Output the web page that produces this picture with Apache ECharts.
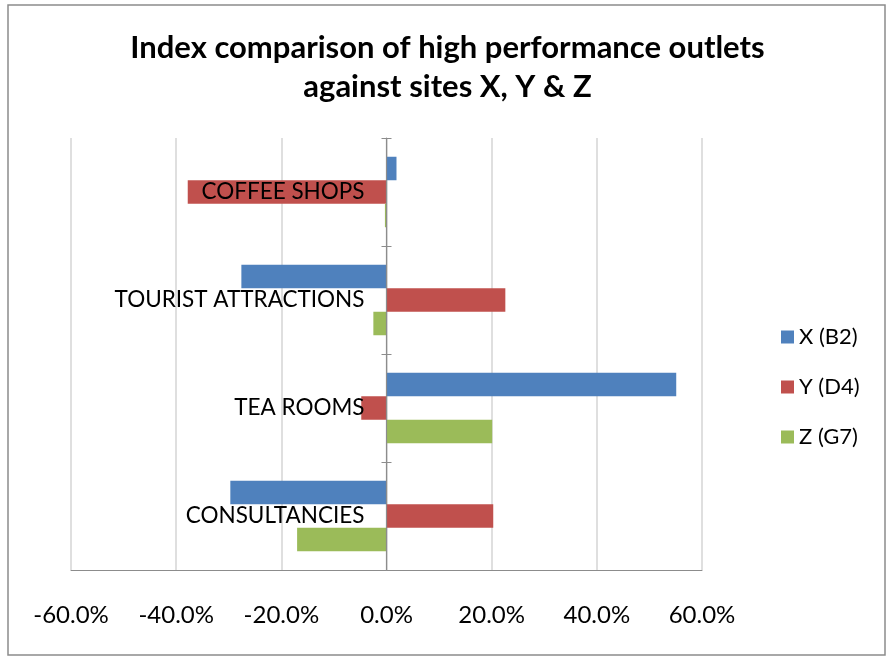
<!DOCTYPE html>
<html>
<head>
<meta charset="utf-8">
<script src="https://cdn.jsdelivr.net/npm/echarts@6/dist/echarts.min.js"></script>
<style>
html,body{margin:0;padding:0;background:#fff;}
#c{width:895px;height:663px;}
</style>
</head>
<body>
<div id="c"></div>
<script>
// Categories listed top to bottom
const categories = ['COFFEE SHOPS', 'TOURIST ATTRACTIONS', 'TEA ROOMS', 'CONSULTANCIES'];
const seriesNames = ['X (B2)', 'Y (D4)', 'Z (G7)'];
const xB2 = [1.9, -27.6, 55.1, -29.7];
const yD4 = [-37.8, 22.6, -4.8, 20.3];
const zG7 = [-0.3, -2.5, 20.1, -17.0];
const xTicks = [-60, -40, -20, 0, 20, 40, 60];
const colors = ['#4F81BD', '#C0504D', '#9BBB59'];

const chart = echarts.init(document.getElementById('c'));
const font = 'Lato, "Open Sans", sans-serif';
const values = [xB2, yD4, zG7];
const GL = 71, GR = 702;
const zeroOffset = -((GR - GL) / 2);

chart.setOption({
  animation: false,
  textStyle: { fontFamily: font },
  title: {
    text: 'Index comparison of high performance outlets\nagainst sites X, Y & Z',
    left: 'center',
    top: 23,
    textStyle: { fontFamily: font, fontSize: 31, fontWeight: 'bold', color: '#000', lineHeight: 39 }
  },
  graphic: [{
    type: 'rect', shape: { x: 8, y: 5, width: 877, height: 650 },
    style: { fill: null, stroke: '#8c8c8c', lineWidth: 1.5 }, silent: true, z: -1
  }],
  legend: {
    orient: 'vertical',
    left: 776,
    top: 318,
    itemGap: 22,
    itemWidth: 13,
    itemHeight: 13,
    icon: 'rect',
    data: seriesNames,
    textStyle: { fontFamily: font, fontSize: 22, color: '#000', lineHeight: 28 }
  },
  grid: { left: GL, right: 895 - GR, top: 138, bottom: 93, containLabel: false, outerBoundsMode: 'none' },
  xAxis: {
    type: 'value',
    min: xTicks[0],
    max: xTicks[xTicks.length - 1],
    interval: 20,
    axisLine: { show: true, onZero: false, lineStyle: { color: '#8c8c8c' } },
    axisTick: { show: false },
    splitLine: { show: true, lineStyle: { color: '#d4d4d4', width: 1.5 } },
    axisLabel: {
      margin: 33,
      fontFamily: font, fontSize: 24, color: '#000',
      formatter: v => v.toFixed(1) + '%'
    }
  },
  yAxis: [{
    type: 'category',
    data: categories,
    inverse: true,
    position: 'left',
    offset: zeroOffset,
    z: 5,
    axisLine: { show: true, onZero: false, lineStyle: { color: '#8c8c8c', width: 1.2 } },
    axisTick: { show: true, length: 5, lineStyle: { color: '#8c8c8c' } },
    axisLabel: { margin: 22, fontFamily: font, fontSize: 22.5, color: '#000' },
    splitLine: { show: false }
  }, {
    type: 'category',
    data: categories,
    inverse: true,
    position: 'left',
    offset: zeroOffset,
    z: 5,
    axisLine: { show: false, onZero: false },
    axisTick: { show: true, inside: true, length: 5, lineStyle: { color: '#8c8c8c' } },
    axisLabel: { show: false },
    splitLine: { show: false }
  }],
  series: seriesNames.map((n, i) => ({
    name: n,
    type: 'bar',
    yAxisIndex: 0,
    data: values[i],
    barWidth: 23.5,
    barGap: '0%',
    itemStyle: { color: colors[i] },
    z: 1
  }))
});
</script>
</body>
</html>
